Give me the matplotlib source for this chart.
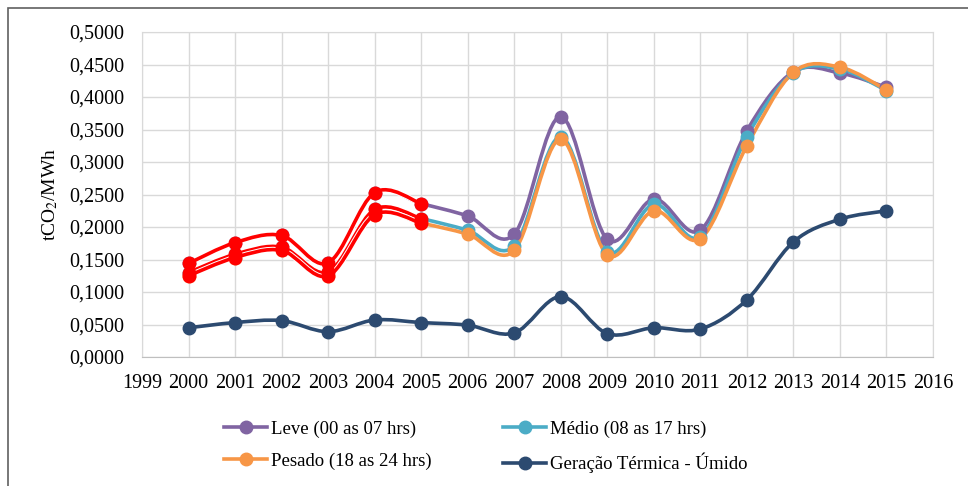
import numpy as np
import matplotlib
matplotlib.use("Agg")
import matplotlib.pyplot as plt
from matplotlib.path import Path
from matplotlib.patches import PathPatch, Rectangle
from matplotlib.lines import Line2D
from matplotlib.ticker import FuncFormatter, MultipleLocator
import matplotlib.patheffects as pe

plt.rcParams['font.family'] = ['Liberation Serif', 'DejaVu Serif']
plt.rcParams['mathtext.fontset'] = 'stix'

anos = [2000, 2001, 2002, 2003, 2004, 2005, 2006, 2007,
        2008, 2009, 2010, 2011, 2012, 2013, 2014, 2015]
leve = [0.144, 0.176, 0.187, 0.145, 0.253, 0.236, 0.217, 0.189,
        0.370, 0.181, 0.243, 0.195, 0.348, 0.439, 0.437, 0.415]
medio = [0.130, 0.158, 0.169, 0.131, 0.227, 0.213, 0.195, 0.171,
         0.339, 0.162, 0.235, 0.185, 0.339, 0.437, 0.443, 0.410]
pesado = [0.125, 0.153, 0.164, 0.125, 0.219, 0.206, 0.189, 0.164,
          0.335, 0.157, 0.225, 0.182, 0.325, 0.438, 0.446, 0.411]
termica = [0.045, 0.053, 0.056, 0.039, 0.057, 0.053, 0.049, 0.037,
           0.093, 0.036, 0.045, 0.043, 0.088, 0.177, 0.212, 0.225]

nomes = ['Leve (00 as 07 hrs)', 'Médio (08 as 17 hrs)',
         'Pesado (18 as 24 hrs)', 'Geração Térmica - Úmido']
cores = ['#8064A2', '#4BACC6', '#F79646', '#2C4A70']
destaque = 6  # anos 2000-2005 marcados em vermelho


def curva_suave(x, y):
    # caminho Bezier estilo "linha suavizada" do Excel
    x = np.asarray(x, float)
    y = np.asarray(y, float)
    n = len(x)
    verts = [(x[0], y[0])]
    codes = [Path.MOVETO]
    for i in range(n - 1):
        a = max(i - 1, 0)
        b = min(i + 2, n - 1)
        c1 = (x[i] + (x[i + 1] - x[a]) / 6, y[i] + (y[i + 1] - y[a]) / 6)
        c2 = (x[i + 1] - (x[b] - x[i]) / 6, y[i + 1] - (y[b] - y[i]) / 6)
        verts += [c1, c2, (x[i + 1], y[i + 1])]
        codes += [Path.CURVE4] * 3
    return Path(verts, codes)


fig = plt.figure(figsize=(9.68, 4.86), dpi=100)
ax = fig.add_axes([0.1467, 0.2654, 0.8171, 0.6687])

for serie, cor in zip([leve, medio, pesado, termica], cores):
    ax.add_patch(PathPatch(curva_suave(anos, serie), fill=False,
                           edgecolor=cor, lw=2.6, capstyle='round', zorder=3))
    ax.plot(anos, serie, 'o', color=cor, ms=9, zorder=4)

for serie in [leve, medio, pesado]:
    ax.add_patch(PathPatch(curva_suave(anos[:destaque], serie[:destaque]),
                           fill=False, edgecolor='#FF0000', lw=2.6, zorder=5,
                           path_effects=[pe.Stroke(linewidth=4, foreground='white'),
                                         pe.Normal()]))
    ax.plot(anos[:destaque], serie[:destaque], 'o', color='#FF0000', ms=9, zorder=6)

ax.set_xlim(1999, 2016)
ax.set_ylim(0, 0.5)
ax.xaxis.set_major_locator(MultipleLocator(1))
ax.yaxis.set_major_locator(MultipleLocator(0.05))
ax.yaxis.set_major_formatter(FuncFormatter(lambda v, p: f'{v:.4f}'.replace('.', ',')))
ax.tick_params(length=0, labelsize=14.5)
ax.tick_params(axis='y', pad=13)
ax.tick_params(axis='x', pad=12)
ax.grid(True, color='#D9D9D9', lw=1)
ax.set_axisbelow(True)
for s in ax.spines.values():
    s.set_color('#D9D9D9')
ax.spines['bottom'].set_color('#BFBFBF')
ax.set_ylabel('tCO$_2$/MWh', fontsize=14, labelpad=6)

# ordem por coluna para ficar Leve/Médio na 1a linha
ordem = [0, 2, 1, 3]
handles = [Line2D([], [], color=cores[i], lw=2.6, marker='o', ms=9) for i in ordem]
fig.legend(handles, [nomes[i] for i in ordem], loc='upper center',
           bbox_to_anchor=(0.502, 0.17), ncol=2, frameon=False, fontsize=13.5,
           handlelength=2.3, handletextpad=0.2, columnspacing=3.8,
           labelspacing=0.8)

fig.add_artist(Rectangle((8 / 968, -0.1), 1.2, 1 - 8 / 486 + 0.1,
                         transform=fig.transFigure, fill=False,
                         edgecolor='#606060', lw=1.2))

fig.savefig('out.png', dpi=100)
